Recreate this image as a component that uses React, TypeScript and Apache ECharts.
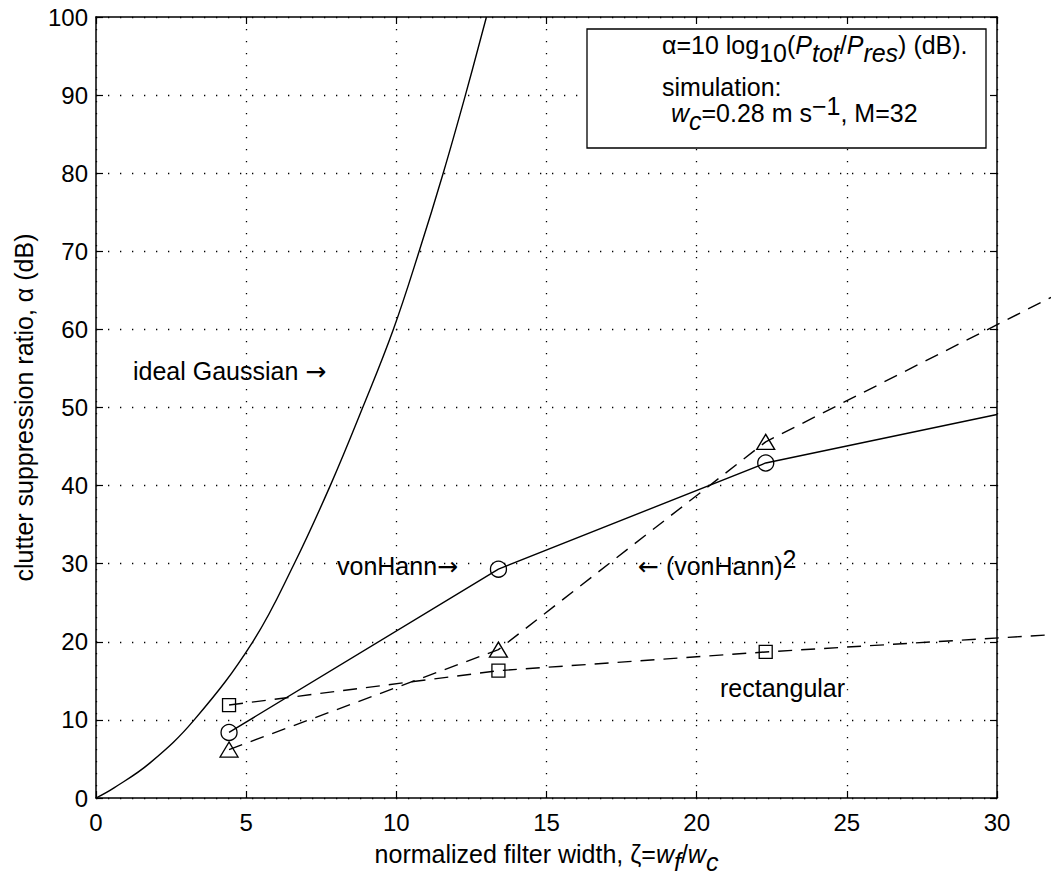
import React, { useEffect, useRef } from "react";
import * as echarts from "echarts";

const FONT = '"Liberation Sans", Arial, Helvetica, sans-serif';
const ARROW_FONT = '"DejaVu Sans", sans-serif';

// axis ranges / ticks
const X_MIN = 0;
const X_MAX = 30;
const X_STEP = 5;
const Y_MIN = 0;
const Y_MAX = 100;
const Y_STEP = 10;
// the dashed curves run on past the right axis to the edge of the figure
const X_EXT = 31.8;

// ideal Gaussian curve
const gaussZeta = [0, 0.6, 1.8, 3.27, 5.22, 6.6, 7.8, 8.88, 9.9, 10.76, 11.56, 12.3, 13.0];
const gaussAlpha = [0, 1.3, 4.5, 10, 20, 30, 40, 50, 60, 70, 80, 90, 100];

// simulation points
const simZeta = [4.43, 13.4, 22.3];
const vonHannAlpha = [8.4, 29.3, 42.9];
const vonHann2Alpha = [6.2, 19.0, 45.6];
const rectAlpha = [11.9, 16.3, 18.7];

// continuation of each curve past the last marker
const vonHannTail = [30, 49.1];
const vonHann2Tail = [31.8, 64.1];
const rectTail = [31.8, 20.9];

const TXT = 25;
const LH = 40;
const rich = {
  n: { fontSize: TXT, fontFamily: FONT, color: "#000", lineHeight: LH },
  ar: { fontSize: TXT, fontFamily: ARROW_FONT, color: "#000", lineHeight: LH },
  i: { fontSize: TXT, fontFamily: FONT, color: "#000", lineHeight: LH, fontStyle: "italic" },
  sb: { fontSize: TXT, fontFamily: FONT, color: "#000", lineHeight: TXT, verticalAlign: "bottom" },
  si: { fontSize: TXT, fontFamily: FONT, color: "#000", lineHeight: TXT, verticalAlign: "bottom", fontStyle: "italic" },
  sp: { fontSize: TXT, fontFamily: FONT, color: "#000", lineHeight: TXT, verticalAlign: "top" },
};

function pts(xs: number[], ys: number[]) {
  return xs.map((x, i) => [x, ys[i]]);
}

function label(text: string, x: number, y: number) {
  return {
    type: "text",
    x,
    y,
    z: 20,
    style: {
      text,
      rich,
      fontSize: TXT,
      fontFamily: FONT,
      fill: "#000",
      align: "left",
      verticalAlign: "middle",
    },
  };
}

const dotted = { color: "#000", width: 1.3, type: [1.3, 10.7] as number[] };
const axisLine = { show: true, onZero: false, lineStyle: { color: "#000", width: 1.5 } };
const axisTick = { show: true, inside: true, length: 7, lineStyle: { color: "#000", width: 1.2 } };

function buildOption() {
  const markerStyle = { color: "transparent", borderColor: "#000", borderWidth: 1.3 };
  return {
    animation: false,
    backgroundColor: "#fff",
    grid: [
      { left: 96, top: 17, right: 54, bottom: 81, containLabel: false },
      { left: 96, top: 17, right: 0, bottom: 81, containLabel: false },
    ],
    xAxis: [
      {
        type: "value",
        gridIndex: 0,
        min: X_MIN,
        max: X_MAX,
        interval: X_STEP,
        position: "bottom",
        axisLine,
        axisTick,
        axisLabel: { color: "#000", fontSize: 24, fontFamily: FONT, margin: 12 },
        splitLine: { show: true, lineStyle: dotted },
        name: "{n|normalized filter width, ζ=}{i|w}{si|f}{n|/}{i|w}{si|c}",
        nameLocation: "middle",
        nameGap: 36,
        nameTextStyle: { rich, fontSize: TXT, fontFamily: FONT, color: "#000" },
      },
      {
        type: "value",
        gridIndex: 0,
        min: X_MIN,
        max: X_MAX,
        interval: X_STEP,
        position: "top",
        axisLine,
        axisTick,
        axisLabel: { show: false },
        splitLine: { show: false },
      },
      {
        type: "value",
        gridIndex: 1,
        min: X_MIN,
        max: X_EXT,
        show: false,
        splitLine: { show: false },
      },
    ],
    yAxis: [
      {
        type: "value",
        gridIndex: 0,
        min: Y_MIN,
        max: Y_MAX,
        interval: Y_STEP,
        position: "left",
        axisLine,
        axisTick,
        axisLabel: { color: "#000", fontSize: 24, fontFamily: FONT, margin: 8 },
        splitLine: { show: true, lineStyle: dotted },
        name: "clutter suppression ratio, α (dB)",
        nameLocation: "middle",
        nameGap: 60,
        nameTextStyle: { fontSize: TXT, fontFamily: FONT, color: "#000" },
      },
      {
        type: "value",
        gridIndex: 0,
        min: Y_MIN,
        max: Y_MAX,
        interval: Y_STEP,
        position: "right",
        axisLine,
        axisTick,
        axisLabel: { show: false },
        splitLine: { show: false },
      },
      {
        type: "value",
        gridIndex: 1,
        min: Y_MIN,
        max: Y_MAX,
        show: false,
        splitLine: { show: false },
      },
    ],
    series: [
      {
        name: "ideal Gaussian",
        type: "line",
        xAxisIndex: 0,
        yAxisIndex: 0,
        data: pts(gaussZeta, gaussAlpha),
        smooth: 0.4,
        symbol: "none",
        lineStyle: { color: "#000", width: 1.4 },
        clip: true,
        silent: true,
        z: 5,
      },
      {
        name: "vonHann",
        type: "line",
        xAxisIndex: 0,
        yAxisIndex: 0,
        data: [...pts(simZeta, vonHannAlpha), { value: vonHannTail, symbol: "none" }],
        symbol: "circle",
        symbolSize: 16,
        itemStyle: markerStyle,
        lineStyle: { color: "#000", width: 1.4 },
        clip: true,
        silent: true,
        z: 5,
      },
      {
        name: "(vonHann)^2",
        type: "line",
        xAxisIndex: 2,
        yAxisIndex: 2,
        data: [...pts(simZeta, vonHann2Alpha), { value: vonHann2Tail, symbol: "none" }],
        symbol: "triangle",
        symbolSize: [18, 15],
        itemStyle: markerStyle,
        lineStyle: { color: "#000", width: 1.4, type: [14, 9] },
        clip: false,
        silent: true,
        z: 5,
      },
      {
        name: "rectangular",
        type: "line",
        xAxisIndex: 2,
        yAxisIndex: 2,
        data: [...pts(simZeta, rectAlpha), { value: rectTail, symbol: "none" }],
        symbol: "rect",
        symbolSize: 13,
        itemStyle: markerStyle,
        lineStyle: { color: "#000", width: 1.4, type: [14, 9] },
        clip: false,
        silent: true,
        z: 5,
      },
    ],
    graphic: [
      {
        type: "rect",
        z: 15,
        shape: { x: 587, y: 29, width: 399, height: 119 },
        style: { fill: "#fff", stroke: "#000", lineWidth: 1.3 },
      },
      label("{n|α=10 log}{sb|10}{n|(}{i|P}{si|tot}{n|/}{i|P}{si|res}{n|) (dB).}", 662, 45),
      label("{n|simulation:}", 662, 87),
      label("{n| }{i|w}{si|c}{n|=0.28 m s}{sp|−1}{n|, M=32}", 664, 113),
      label("{n|ideal Gaussian }{ar|→}", 133, 371),
      label("{n|vonHann}{ar|→}", 337, 566),
      label("{ar|←}{n| (vonHann)}{sp|2}", 638, 566),
      label("{n|rectangular}", 720, 688),
    ],
  };
}

export default function App() {
  const ref = useRef<HTMLDivElement>(null);
  useEffect(() => {
    if (!ref.current) return;
    const chart = echarts.init(ref.current, null, { renderer: "svg" });
    chart.setOption(buildOption() as any);
    return () => chart.dispose();
  }, []);
  return (
    <div
      ref={ref}
      style={{ position: "absolute", left: 0, top: 0, width: 1051, height: 879, background: "#fff" }}
    />
  );
}
